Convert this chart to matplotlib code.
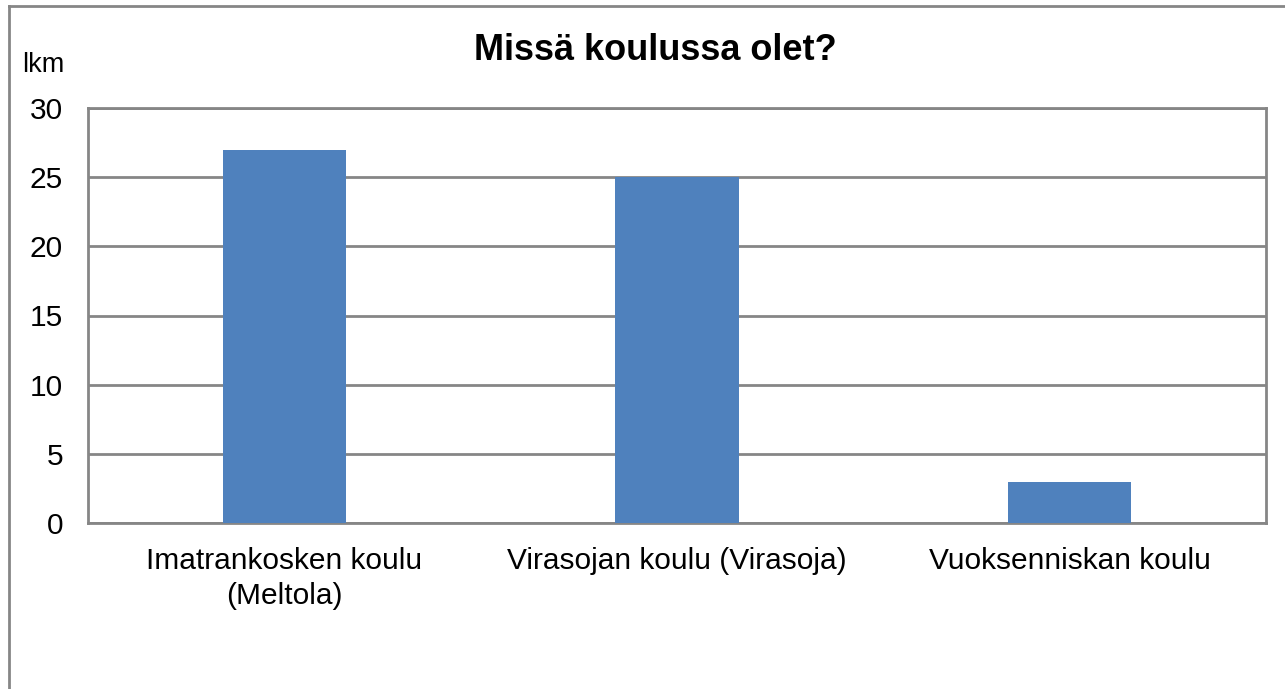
import matplotlib.pyplot as plt
import numpy as np

plt.rcParams['font.family'] = ['Liberation Sans', 'DejaVu Sans']

# --- Data ---
schools = ["Imatrankosken koulu\n(Meltola)", "Virasojan koulu (Virasoja)", "Vuoksenniskan koulu"]
counts = [27, 25, 3]
yticks = [0, 5, 10, 15, 20, 25, 30]

W, H = 1285, 689
fig = plt.figure(figsize=(W / 100, H / 100), dpi=100)

# outer chart border (left and top only visible)
line_col = "#868686"
fig.add_artist(plt.Line2D([9 / W, 9 / W], [0, 1 - 6 / H], color=line_col, lw=2))
fig.add_artist(plt.Line2D([9 / W, 1], [1 - 6 / H, 1 - 6 / H], color=line_col, lw=2))

# plot area
left, right, top, bottom = 88, 1266, 108, 523
ax = fig.add_axes([left / W, 1 - bottom / H, (right - left) / W, (bottom - top) / H])

x = np.arange(len(schools))
ax.bar(x, counts, width=0.314, color="#4F81BD", zorder=3)

ax.set_xlim(-0.5, len(schools) - 0.5)
ax.set_ylim(0, 30)
ax.set_yticks(yticks)
ax.set_yticklabels([str(v) for v in yticks], fontsize=21.5)
ax.set_xticks(x)
ax.set_xticklabels(schools, fontsize=21.5, linespacing=1.35)
ax.tick_params(axis="both", length=0, colors="black")
ax.tick_params(axis="y", pad=18)
ax.tick_params(axis="x", pad=17)
ax.yaxis.grid(True, color=line_col, lw=2, zorder=0)
for s in ax.spines.values():
    s.set_color(line_col)
    s.set_linewidth(2)

fig.text(655 / W, 1 - 50 / H, "Missä koulussa olet?", fontsize=26, fontweight="bold",
         ha="center", va="center")
fig.text(43 / W, 1 - 65 / H, "lkm", fontsize=19.5, ha="center", va="center")

fig.savefig("out.png", dpi=100)
